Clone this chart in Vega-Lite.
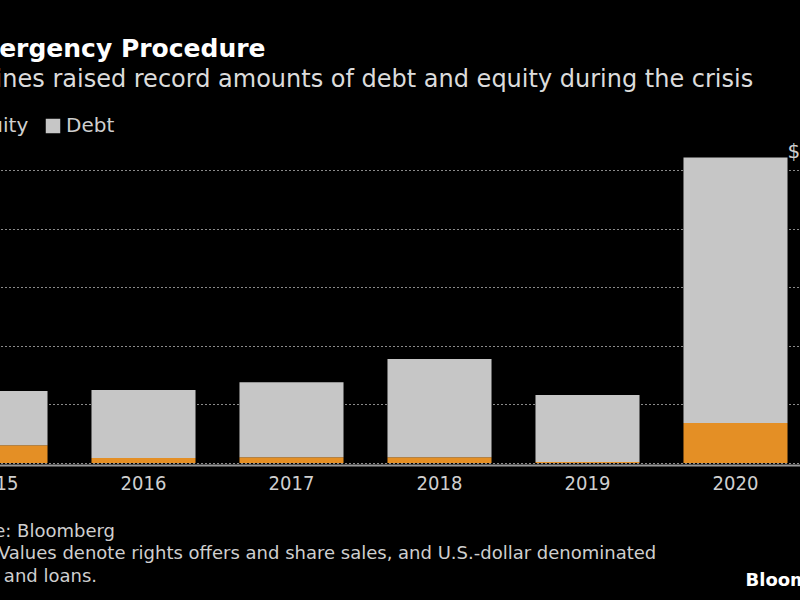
{
  "$schema": "https://vega.github.io/schema/vega-lite/v6.json",
  "width": 800,
  "height": 322,
  "autosize": {"type": "none"},
  "padding": {"left": 0, "top": 141, "right": 0, "bottom": 137},
  "background": "#000000",
  "title": {
    "text": "Emergency Procedure",
    "subtitle": "Airlines raised record amounts of debt and equity during the crisis",
    "anchor": "start",
    "frame": "group",
    "dx": -44,
    "offset": 24,
    "font": "DejaVu Sans",
    "fontWeight": "bold",
    "fontSize": 25,
    "color": "#ffffff",
    "subtitleFont": "DejaVu Sans",
    "subtitleFontSize": 24,
    "subtitleColor": "#dcdcdc",
    "subtitlePadding": 6
  },
  "config": {
    "view": {"stroke": null},
    "text": {"font": "DejaVu Sans"}
  },
  "data": {
    "values": [
      {"year": "2015", "type": "Equity", "value": 6.1},
      {"year": "2015", "type": "Debt", "value": 18.5},
      {"year": "2016", "type": "Equity", "value": 1.7},
      {"year": "2016", "type": "Debt", "value": 23.2},
      {"year": "2017", "type": "Equity", "value": 2.0},
      {"year": "2017", "type": "Debt", "value": 25.6},
      {"year": "2018", "type": "Equity", "value": 2.0},
      {"year": "2018", "type": "Debt", "value": 33.5},
      {"year": "2019", "type": "Equity", "value": 0.3},
      {"year": "2019", "type": "Debt", "value": 22.9},
      {"year": "2020", "type": "Equity", "value": 13.7},
      {"year": "2020", "type": "Debt", "value": 90.7}
    ]
  },
  "layer": [
    {
      "mark": {"type": "bar"},
      "encoding": {
        "x": {
          "field": "year",
          "type": "nominal",
          "scale": {"range": [-78.5, 809.5], "paddingInner": 0.297, "paddingOuter": 0.1485},
          "axis": {
            "orient": "bottom",
            "title": [
              "Source: Bloomberg",
              "Note: Values denote rights offers and share sales, and U.S.-dollar denominated",
              "bonds and loans."
            ],
            "offset": 2,
            "domainColor": "#9a9a9a",
            "domainWidth": 2,
            "ticks": false,
            "grid": false,
            "labelAngle": 0,
            "labelColor": "#cfcfcf",
            "labelFont": "DejaVu Sans Condensed",
            "labelFontSize": 20,
            "labelPadding": 8,
            "titleAnchor": "start",
            "titleAlign": "left",
            "titleX": -57,
            "titleY": 71,
            "titleBaseline": "alphabetic",
            "titleColor": "#cfcfcf",
            "titleFont": "DejaVu Sans",
            "titleFontSize": 18,
            "titleFontWeight": "normal",
            "titleLineHeight": 22.5
          }
        },
        "y": {
          "field": "value",
          "type": "quantitative",
          "stack": "zero",
          "scale": {"domain": [0, 110], "nice": false},
          "axis": {
            "orient": "right",
            "values": [0, 20, 40, 60, 80, 100],
            "grid": true,
            "gridDash": [2, 2],
            "gridColor": "#8a8a8a",
            "gridWidth": 1.2,
            "domain": false,
            "ticks": false,
            "labels": false,
            "title": "Bloomberg",
            "titleAngle": 0,
            "titleAlign": "left",
            "titleBaseline": "middle",
            "titleX": -55,
            "titleY": 439,
            "titleFont": "DejaVu Sans",
            "titleFontWeight": "bold",
            "titleFontSize": 18,
            "titleColor": "#ffffff"
          }
        },
        "color": {
          "field": "type",
          "type": "nominal",
          "scale": {"domain": ["Equity", "Debt"], "range": ["#e48f25", "#c6c6c6"]},
          "legend": {
            "orient": "none",
            "legendX": -58,
            "legendY": -25,
            "direction": "horizontal",
            "title": null,
            "symbolType": "square",
            "symbolSize": 210,
            "symbolStrokeWidth": 0,
            "symbolOpacity": 1,
            "labelColor": "#cfcfcf",
            "labelFont": "DejaVu Sans",
            "labelFontSize": 20,
            "labelOffset": 3,
            "columnPadding": 14,
            "padding": 0
          }
        },
        "order": {"field": "type", "sort": "descending"}
      }
    },
    {
      "data": {"values": [{"year": "2020", "total": 104.4, "label": "$104B"}]},
      "mark": {"type": "text", "align": "left", "baseline": "alphabetic", "dx": 52, "dy": 1, "fontSize": 20, "color": "#cfcfcf"},
      "encoding": {
        "x": {"field": "year", "type": "nominal"},
        "y": {"field": "total", "type": "quantitative"},
        "text": {"field": "label"}
      }
    }
  ]
}
